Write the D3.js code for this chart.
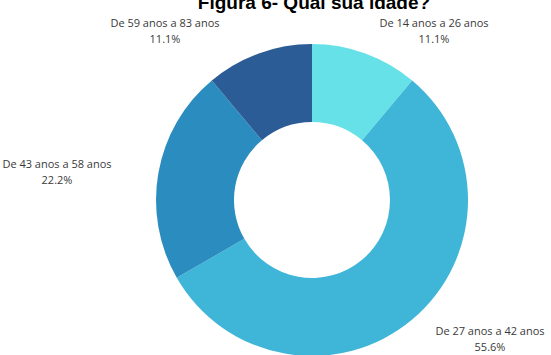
<!DOCTYPE html>
<html>
<head>
<meta charset="utf-8">
<script src="https://cdn.jsdelivr.net/npm/d3@7"></script>
<style>
  html, body { margin: 0; padding: 0; background: #fff; }
  svg { display: block; }
</style>
</head>
<body>
<svg id="chart" width="551" height="355"></svg>
<script>
// Age groups and their share of respondents
const categories = ["De 14 anos a 26 anos", "De 27 anos a 42 anos", "De 43 anos a 58 anos", "De 59 anos a 83 anos"];
const percents = [11.1, 55.6, 22.2, 11.1];
const colors = ["#67e1e8", "#3fb5d7", "#2b8dbf", "#2c5c96"];
const title = "Figura 6- Qual sua idade?";

// Label anchors (center of the two text lines) for each age group
const labelAnchors = [[434, 30], [490, 338], [57, 171], [165, 30]];

const width = 551, height = 355;
const cx = 312, cy = 200, outerR = 156, innerR = 78;

const svg = d3.select("#chart");

const data = categories.map((c, i) => ({ name: c, value: percents[i], color: colors[i], anchor: labelAnchors[i] }));

const pie = d3.pie().value(d => d.value).sort(null);
const arc = d3.arc().innerRadius(innerR).outerRadius(outerR);

const g = svg.append("g").attr("transform", `translate(${cx},${cy})`);
g.selectAll("path")
  .data(pie(data))
  .join("path")
  .attr("d", arc)
  .attr("fill", d => d.data.color);

// Outside labels: name on the first line, percentage below
const labels = svg.append("g")
  .attr("font-family", "'Open Sans', sans-serif")
  .attr("font-size", 11)
  .attr("fill", "#3a3a3a")
  .attr("text-anchor", "middle");

labels.selectAll("text")
  .data(data)
  .join("text")
  .attr("x", d => d.anchor[0])
  .attr("y", d => d.anchor[1])
  .each(function(d) {
    const t = d3.select(this);
    t.append("tspan").attr("x", d.anchor[0]).attr("dy", "-0.25em").text(d.name);
    t.append("tspan").attr("x", d.anchor[0]).attr("dy", "1.4em").text(d.value.toFixed(1) + "%");
  });

svg.append("text")
  .attr("x", 314)
  .attr("y", 9)
  .attr("text-anchor", "middle")
  .attr("font-family", "'Liberation Sans', Arial, sans-serif")
  .attr("font-weight", "bold")
  .attr("font-size", 19)
  .attr("fill", "#000")
  .text(title);
</script>
</body>
</html>
